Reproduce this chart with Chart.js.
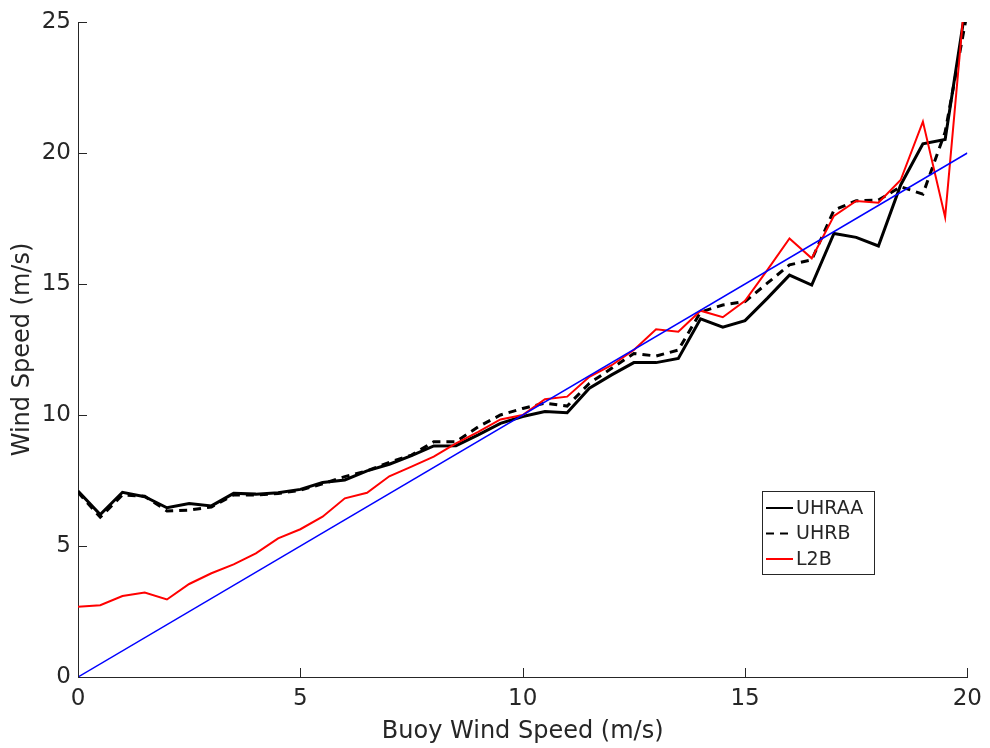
<!DOCTYPE html>
<html>
<head>
<meta charset="utf-8">
<script src="https://cdn.jsdelivr.net/npm/chart.js@4"></script>
<style>
  body { margin: 0; background: #fff; }
  .wrap { width: 990px; height: 748px; }
</style>
</head>
<body>
<div class="wrap"><canvas id="windChart"></canvas></div>
<script>
// Buoy wind speed bins (m/s)
const buoySpeed = [0, 0.5, 1, 1.5, 2, 2.5, 3, 3.5, 4, 4.5, 5, 5.5, 6, 6.5, 7, 7.5, 8, 8.5, 9, 9.5,
  10, 10.5, 11, 11.5, 12, 12.5, 13, 13.5, 14, 14.5, 15, 15.5, 16, 16.5, 17, 17.5, 18, 18.5, 19, 19.5, 20];

const uhraa = [7.1, 6.2, 7.05, 6.88, 6.46, 6.62, 6.53, 7.01, 6.98, 7.03, 7.16, 7.42, 7.52, 7.87, 8.12, 8.45,
  8.82, 8.83, 9.24, 9.68, 9.94, 10.13, 10.09, 11.02, 11.53, 12.0, 12.0, 12.16, 13.67, 13.35, 13.6, 14.45,
  15.34, 14.96, 16.93, 16.78, 16.45, 18.78, 20.35, 20.52, 26.0];

const uhrb = [7.05, 6.1, 6.95, 6.9, 6.34, 6.37, 6.49, 6.95, 6.95, 7.0, 7.13, 7.37, 7.65, 7.87, 8.19, 8.47,
  8.98, 8.98, 9.55, 10.0, 10.25, 10.45, 10.34, 11.21, 11.78, 12.35, 12.25, 12.48, 13.93, 14.2, 14.33, 15.03,
  15.73, 15.92, 17.82, 18.18, 18.2, 18.71, 18.43, 20.8, 25.4];

const l2b = [2.68, 2.74, 3.09, 3.22, 2.96, 3.55, 3.96, 4.3, 4.72, 5.29, 5.64, 6.12, 6.82, 7.03, 7.66, 8.03,
  8.41, 8.92, 9.36, 9.83, 10.0, 10.6, 10.7, 11.46, 11.9, 12.48, 13.27, 13.18, 13.98, 13.73, 14.36, 15.53,
  16.74, 15.98, 17.6, 18.17, 18.1, 18.97, 21.2, 17.55, 27.0];

// 1:1 reference line
const oneToOneX = [0, 20];
const oneToOneY = [0, 20];

const xTicks = [0, 5, 10, 15, 20];
const yTicks = [0, 5, 10, 15, 20, 25];

const axisColor = '#262626';
const fontFamily = '"DejaVu Sans", sans-serif';

function toPoints(xs, ys) {
  return xs.map((x, i) => ({ x: x, y: ys[i] }));
}

// inward tick marks, MATLAB style
const inwardTicks = {
  id: 'inwardTicks',
  afterDatasetsDraw(chart) {
    const ctx = chart.ctx;
    const xs = chart.scales.x;
    const ys = chart.scales.y;
    const area = chart.chartArea;
    ctx.save();
    ctx.strokeStyle = axisColor;
    ctx.lineWidth = 1;
    ctx.beginPath();
    xTicks.forEach(v => {
      const px = Math.round(xs.getPixelForValue(v)) + 0.5;
      ctx.moveTo(px, area.bottom);
      ctx.lineTo(px, area.bottom - 9);
    });
    yTicks.forEach(v => {
      const py = Math.round(ys.getPixelForValue(v)) + 0.5;
      ctx.moveTo(area.left, py);
      ctx.lineTo(area.left + 9, py);
    });
    ctx.stroke();
    ctx.restore();
  }
};

// legend box inside the plot (lower right)
const boxLegend = {
  id: 'boxLegend',
  afterDraw(chart) {
    const ctx = chart.ctx;
    const items = chart.data.datasets.filter(d => d.label);
    const left = 762, top = 491, w = 112, h = 83;
    ctx.save();
    ctx.fillStyle = '#fff';
    ctx.fillRect(left, top, w, h);
    ctx.strokeStyle = axisColor;
    ctx.lineWidth = 1;
    ctx.strokeRect(left + 0.5, top + 0.5, w, h);
    ctx.font = '19px ' + fontFamily;
    ctx.textBaseline = 'middle';
    items.forEach((d, i) => {
      const y = top + 17 + i * 25.5;
      ctx.strokeStyle = d.borderColor;
      ctx.lineWidth = Math.min(d.borderWidth, 2);
      ctx.setLineDash(d.borderDash || []);
      ctx.beginPath();
      ctx.moveTo(left + 4, y);
      ctx.lineTo(left + 31, y);
      ctx.stroke();
      ctx.setLineDash([]);
      ctx.fillStyle = axisColor;
      ctx.fillText(d.label, left + 34, y + 1);
    });
    ctx.restore();
  }
};

const ctx = document.getElementById('windChart').getContext('2d');
new Chart(ctx, {
  type: 'line',
  data: {
    datasets: [
      {
        data: toPoints(oneToOneX, oneToOneY),
        borderColor: '#0000ff',
        borderWidth: 1.5,
        order: 0
      },
      {
        label: 'UHRAA',
        data: toPoints(buoySpeed, uhraa),
        borderColor: '#000000',
        borderWidth: 3,
        order: 3
      },
      {
        label: 'UHRB',
        data: toPoints(buoySpeed, uhrb),
        borderColor: '#000000',
        borderWidth: 3,
        borderDash: [8, 6],
        order: 2
      },
      {
        label: 'L2B',
        data: toPoints(buoySpeed, l2b),
        borderColor: '#ff0000',
        borderWidth: 2,
        order: 1
      }
    ]
  },
  options: {
    responsive: true,
    maintainAspectRatio: false,
    animation: false,
    layout: { padding: { top: 22, right: 20, left: 0, bottom: 0 } },
    elements: {
      point: { radius: 0 },
      line: { tension: 0, fill: false }
    },
    plugins: {
      legend: { display: false },
      tooltip: { enabled: false }
    },
    scales: {
      x: {
        type: 'linear',
        min: 0,
        max: 20,
        afterBuildTicks: s => { s.ticks = xTicks.map(v => ({ value: v })); },
        afterFit: s => { s.height = 71; },
        grid: { display: false, drawTicks: false },
        border: { display: true, color: axisColor, width: 1 },
        ticks: { color: axisColor, padding: 8, maxRotation: 0, font: { family: fontFamily, size: 23 } },
        title: {
          display: true,
          text: 'Buoy Wind Speed (m/s)',
          color: axisColor,
          font: { family: fontFamily, size: 24 },
          padding: { top: 0, bottom: 2 }
        }
      },
      y: {
        type: 'linear',
        min: 0,
        max: 25,
        afterBuildTicks: s => { s.ticks = yTicks.map(v => ({ value: v })); },
        afterFit: s => { s.width = 78; },
        grid: { display: false, drawTicks: false },
        border: { display: true, color: axisColor, width: 1 },
        ticks: { color: axisColor, padding: 7, font: { family: fontFamily, size: 23 } },
        title: {
          display: true,
          text: 'Wind Speed (m/s)',
          color: axisColor,
          font: { family: fontFamily, size: 24 },
          padding: { top: 8, bottom: 0 }
        }
      }
    }
  },
  plugins: [inwardTicks, boxLegend]
});
</script>
</body>
</html>
